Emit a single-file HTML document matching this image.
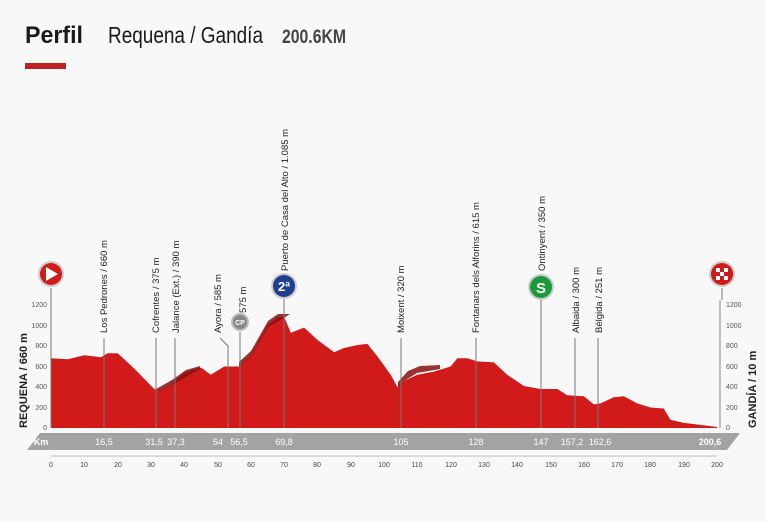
<!DOCTYPE html>
<html><head><meta charset="utf-8"><style>
body{margin:0;background:#f8f8f8;width:766px;height:522px;overflow:hidden}
svg{display:block;font-family:"Liberation Sans Narrow","Liberation Sans",sans-serif}
</style></head><body>
<svg width="766" height="522" viewBox="0 0 766 522">
<rect width="766" height="522" fill="#f8f8f8"/>
<text x="25" y="43" font-size="24" font-weight="bold" fill="#1a1a1a" textLength="58" lengthAdjust="spacingAndGlyphs">Perfil</text>
<text x="108" y="43" font-size="23" fill="#1a1a1a" textLength="155" lengthAdjust="spacingAndGlyphs">Requena / Gandía</text>
<text x="282" y="43" font-size="19" font-weight="bold" fill="#444" textLength="64" lengthAdjust="spacingAndGlyphs">200.6KM</text>
<rect x="25" y="63" width="41" height="6" fill="#c0201f"/>
<polygon fill="#d11a1a" points="51,428 51,358.3 67.7,359.3 84.3,355.2 101,357.3 107.6,353.2 117.6,353.2 134.3,368.6 144.2,378.8 154.2,389 160.9,390.1 170.9,385 184.2,372.6 200.9,367.5 210.8,374.7 224.2,366.5 239.1,366.5 250.8,356.2 267.5,325.5 277.4,317.3 284.1,316.8 290.8,332.7 304.1,327.6 317.4,339.9 334.1,352.2 344,348 357.4,345 367.4,343.9 377.3,356.2 390.7,374.7 397.3,387 404,380.9 417.3,374.7 434,371.6 450.6,366.5 457.3,358.3 467.3,358.3 477.2,361.4 493.9,362.4 507.2,374.7 523.9,386 540.5,389 557.2,389 567.2,395.2 583.8,396.2 593.8,404.4 600.5,403.4 613.8,397.2 623.8,396.2 637.1,403.4 650.4,407.5 663.7,408.5 670.4,419.8 683.7,422.9 700.4,424.9 717,427 717,428"/>
<g fill="#8a1010" opacity="0.85">
<polygon points="156,389 172,380 186,370 200,366 200,369 172,385 160,391"/>
<polygon points="239,362 251,351 268,321 278,314 290,314 284,318 268,327 251,357 239,367"/>
<polygon points="398,382 408,371 420,366 440,365 440,369 417,373 404,381 398,387"/>
</g>
<g stroke="#888" stroke-width="1"><line x1="51" y1="300" x2="51" y2="428"/><line x1="720" y1="300" x2="720" y2="428"/></g>
<g font-size="7" fill="#555" text-anchor="end">
<text x="47" y="430">0</text><text x="47" y="410">200</text><text x="47" y="389">400</text><text x="47" y="369">600</text><text x="47" y="348">800</text><text x="47" y="328">1000</text><text x="47" y="307">1200</text>
</g>
<g font-size="7" fill="#555">
<text x="726" y="430">0</text><text x="726" y="410">200</text><text x="726" y="389">400</text><text x="726" y="369">600</text><text x="726" y="348">800</text><text x="726" y="328">1000</text><text x="726" y="307">1200</text>
</g>
<text transform="translate(27,428) rotate(-90)" font-size="11" font-weight="bold" fill="#222">REQUENA / 660 m</text>
<text transform="translate(756,428) rotate(-90)" font-size="11" font-weight="bold" fill="#222">GANDÍA / 10 m</text>
<polygon points="27,450 40,433 740,433 727,450" fill="#a3a3a3"/>
<g font-size="9" fill="#fff" text-anchor="middle">
<text x="41" y="445" font-weight="bold">Km</text>
<text x="104" y="445">16,5</text><text x="154" y="445">31,5</text><text x="176" y="445">37,3</text><text x="218" y="445">54</text><text x="239" y="445">56,5</text><text x="284" y="445">69,8</text><text x="401" y="445">105</text><text x="476" y="445">128</text><text x="541" y="445">147</text><text x="572" y="445">157,2</text><text x="600" y="445">162,6</text><text x="710" y="445" font-weight="bold">200,6</text>
</g>
<line x1="51" y1="456" x2="717" y2="456" stroke="#bbb"/>
<g font-size="7" fill="#444" text-anchor="middle">
<text x="51" y="467">0</text><text x="84" y="467">10</text><text x="118" y="467">20</text><text x="151" y="467">30</text><text x="184" y="467">40</text><text x="218" y="467">50</text><text x="251" y="467">60</text><text x="284" y="467">70</text><text x="317" y="467">80</text><text x="351" y="467">90</text><text x="384" y="467">100</text><text x="417" y="467">110</text><text x="451" y="467">120</text><text x="484" y="467">130</text><text x="517" y="467">140</text><text x="551" y="467">150</text><text x="584" y="467">160</text><text x="617" y="467">170</text><text x="650" y="467">180</text><text x="684" y="467">190</text><text x="717" y="467">200</text>
</g>
<g stroke="#777" stroke-width="1">
<line x1="51" y1="288" x2="51" y2="428"/><line x1="722" y1="288" x2="722" y2="300"/>
<line x1="104" y1="338" x2="104" y2="428"/><line x1="156" y1="338" x2="156" y2="428"/><line x1="175" y1="338" x2="175" y2="428"/>
<polyline points="220,338 228,346 228,428" fill="none"/><line x1="240" y1="332" x2="240" y2="428"/>
<line x1="284" y1="298" x2="284" y2="428"/><line x1="401" y1="338" x2="401" y2="428"/><line x1="476" y1="338" x2="476" y2="428"/>
<line x1="541" y1="300" x2="541" y2="428"/><line x1="575" y1="338" x2="575" y2="428"/><line x1="598" y1="338" x2="598" y2="428"/>
</g>
<g font-size="9.5" fill="#222">
<text transform="translate(107,333) rotate(-90)">Los Pedrones / 660 m</text>
<text transform="translate(159,333) rotate(-90)">Cofrentes / 375 m</text>
<text transform="translate(179,333) rotate(-90)">Jalance (Ext.) / 390 m</text>
<text transform="translate(221,333) rotate(-90)">Ayora / 585 m</text>
<text transform="translate(246,313) rotate(-90)">575 m</text>
<text transform="translate(288,271) rotate(-90)">Puerto de Casa del Alto / 1.085 m</text>
<text transform="translate(404,333) rotate(-90)">Moixent / 320 m</text>
<text transform="translate(479,333) rotate(-90)">Fontanars dels Alforins / 615 m</text>
<text transform="translate(545,271) rotate(-90)">Ontinyent / 350 m</text>
<text transform="translate(579,333) rotate(-90)">Albaida / 300 m</text>
<text transform="translate(602,333) rotate(-90)">Bélgida / 251 m</text>
</g>
<circle cx="51" cy="274" r="13" fill="#ccc"/><circle cx="51" cy="274" r="11" fill="#d11a1a"/>
<polygon points="46,267 46,281 58,274" fill="#fff"/>
<circle cx="722" cy="274" r="13" fill="#ccc"/><circle cx="722" cy="274" r="11" fill="#d11a1a"/>
<g fill="#fff"><rect x="716" y="268" width="4" height="4"/><rect x="724" y="268" width="4" height="4"/><rect x="720" y="272" width="4" height="4"/><rect x="716" y="276" width="4" height="4"/><rect x="724" y="276" width="4" height="4"/></g>
<circle cx="240" cy="322" r="9" fill="#bbb"/><circle cx="240" cy="322" r="7" fill="#888"/><text x="240" y="325" font-size="7" fill="#fff" text-anchor="middle" font-weight="bold">CP</text>
<circle cx="284" cy="286" r="13" fill="#ccc"/><circle cx="284" cy="286" r="11" fill="#1f3f8f"/><text x="284" y="291" font-size="13" fill="#fff" text-anchor="middle" font-weight="bold">2ª</text>
<circle cx="541" cy="287" r="13" fill="#ccc"/><circle cx="541" cy="287" r="11" fill="#1a9a3a"/><text x="541" y="293" font-size="15" fill="#fff" text-anchor="middle" font-weight="bold">S</text>
</svg>
</body></html>
